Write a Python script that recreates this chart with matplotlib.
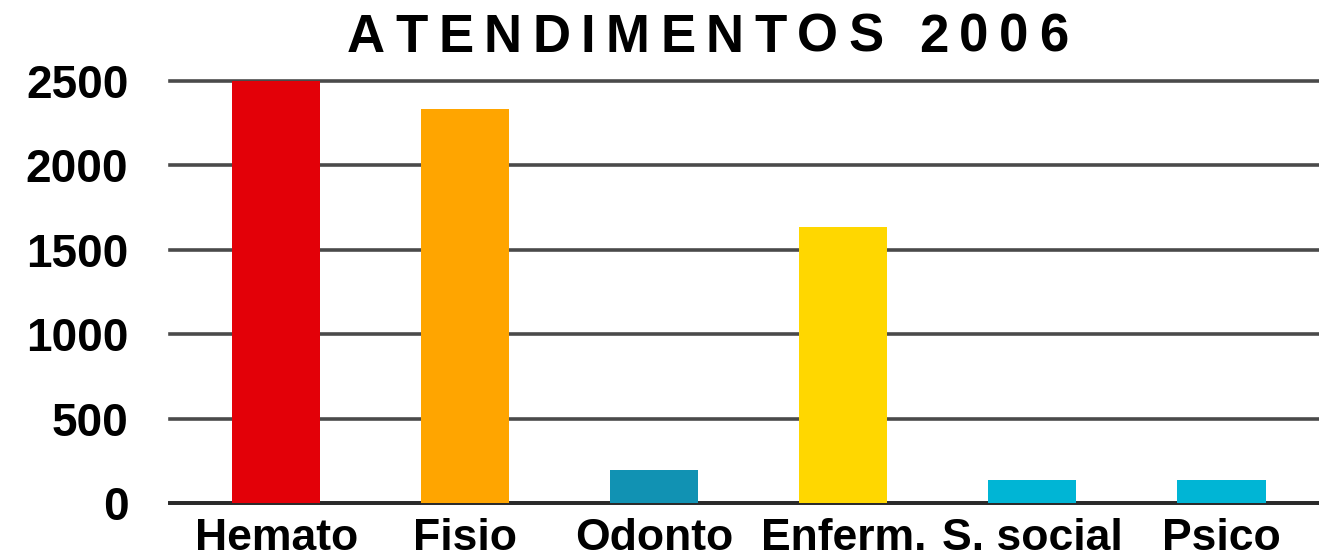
import matplotlib
matplotlib.use("Agg")
import matplotlib.pyplot as plt
import numpy as np

# ---- data ----
categories = ["Hemato", "Fisio", "Odonto", "Enferm.", "S. social", "Psico"]
values = [2500, 2335, 195, 1635, 136, 136]
bar_colors = ["#E30008", "#FFA500", "#1192B3", "#FFD700", "#00B5D5", "#00B5D5"]
y_ticks = [0, 500, 1000, 1500, 2000, 2500]
title = "ATENDIMENTOS 2006"

W, H = 1319, 558
DPI = 100
fig = plt.figure(figsize=(W / DPI, H / DPI), dpi=DPI)
fig.patch.set_facecolor("white")

# axes placement (pixels)
ax_left, ax_right = 170, 1319
ax_bottom, ax_top = 503, 81
ax = fig.add_axes([ax_left / W, 1 - ax_bottom / H, (ax_right - ax_left) / W, (ax_bottom - ax_top) / H])

x = np.arange(len(categories))
ax.bar(x, values, width=0.466, color=bar_colors, zorder=3)

ax.set_xlim(-0.563, 5.516)
ax.set_ylim(0, 2500)
ax.set_yticks(y_ticks)
ax.set_yticklabels([str(v) for v in y_ticks])
ax.set_xticks(x)
ax.set_xticklabels(categories)

for s in ax.spines.values():
    s.set_visible(False)

ax.set_axisbelow(True)
ax.yaxis.grid(True, color="#4a4a4a", linewidth=2.6)
for gl in ax.get_ygridlines():
    gl.set_clip_on(False)
ax.axhline(0, color="#2a2a2a", linewidth=2.8, zorder=2, clip_on=False)

ax.tick_params(axis="y", length=0, pad=30, labelsize=33)
ax.tick_params(axis="x", length=0, pad=11, labelsize=32)
for lab in ax.get_yticklabels() + ax.get_xticklabels():
    lab.set_fontfamily("Liberation Sans")
    lab.set_fontweight("bold")
    lab.set_color("black")

# ---- tracked (letter-spaced) title ----
fig.canvas.draw()
renderer = fig.canvas.get_renderer()
title_size = 38
left_px, right_px, baseline_y = 347, 1068, 52
chars = []
widths = []
for ch in title:
    if ch == " ":
        t = fig.text(0, 0, "0", fontsize=title_size, fontfamily="Liberation Sans", fontweight="bold")
        w = t.get_window_extent(renderer).width * 0.5
        t.remove()
        chars.append(None)
    else:
        t = fig.text(0, 0, ch, fontsize=title_size, fontfamily="Liberation Sans", fontweight="bold")
        w = t.get_window_extent(renderer).width
        chars.append(t)
    widths.append(w)
tracking = ((right_px - left_px) - sum(widths)) / (len(title) - 1)
xp = left_px
for t, w in zip(chars, widths):
    if t is not None:
        t.set_position((xp / W, 1 - baseline_y / H))
        t.set_va("baseline")
        t.set_ha("left")
    xp += w + tracking

fig.savefig("out.png", dpi=DPI, facecolor="white")
